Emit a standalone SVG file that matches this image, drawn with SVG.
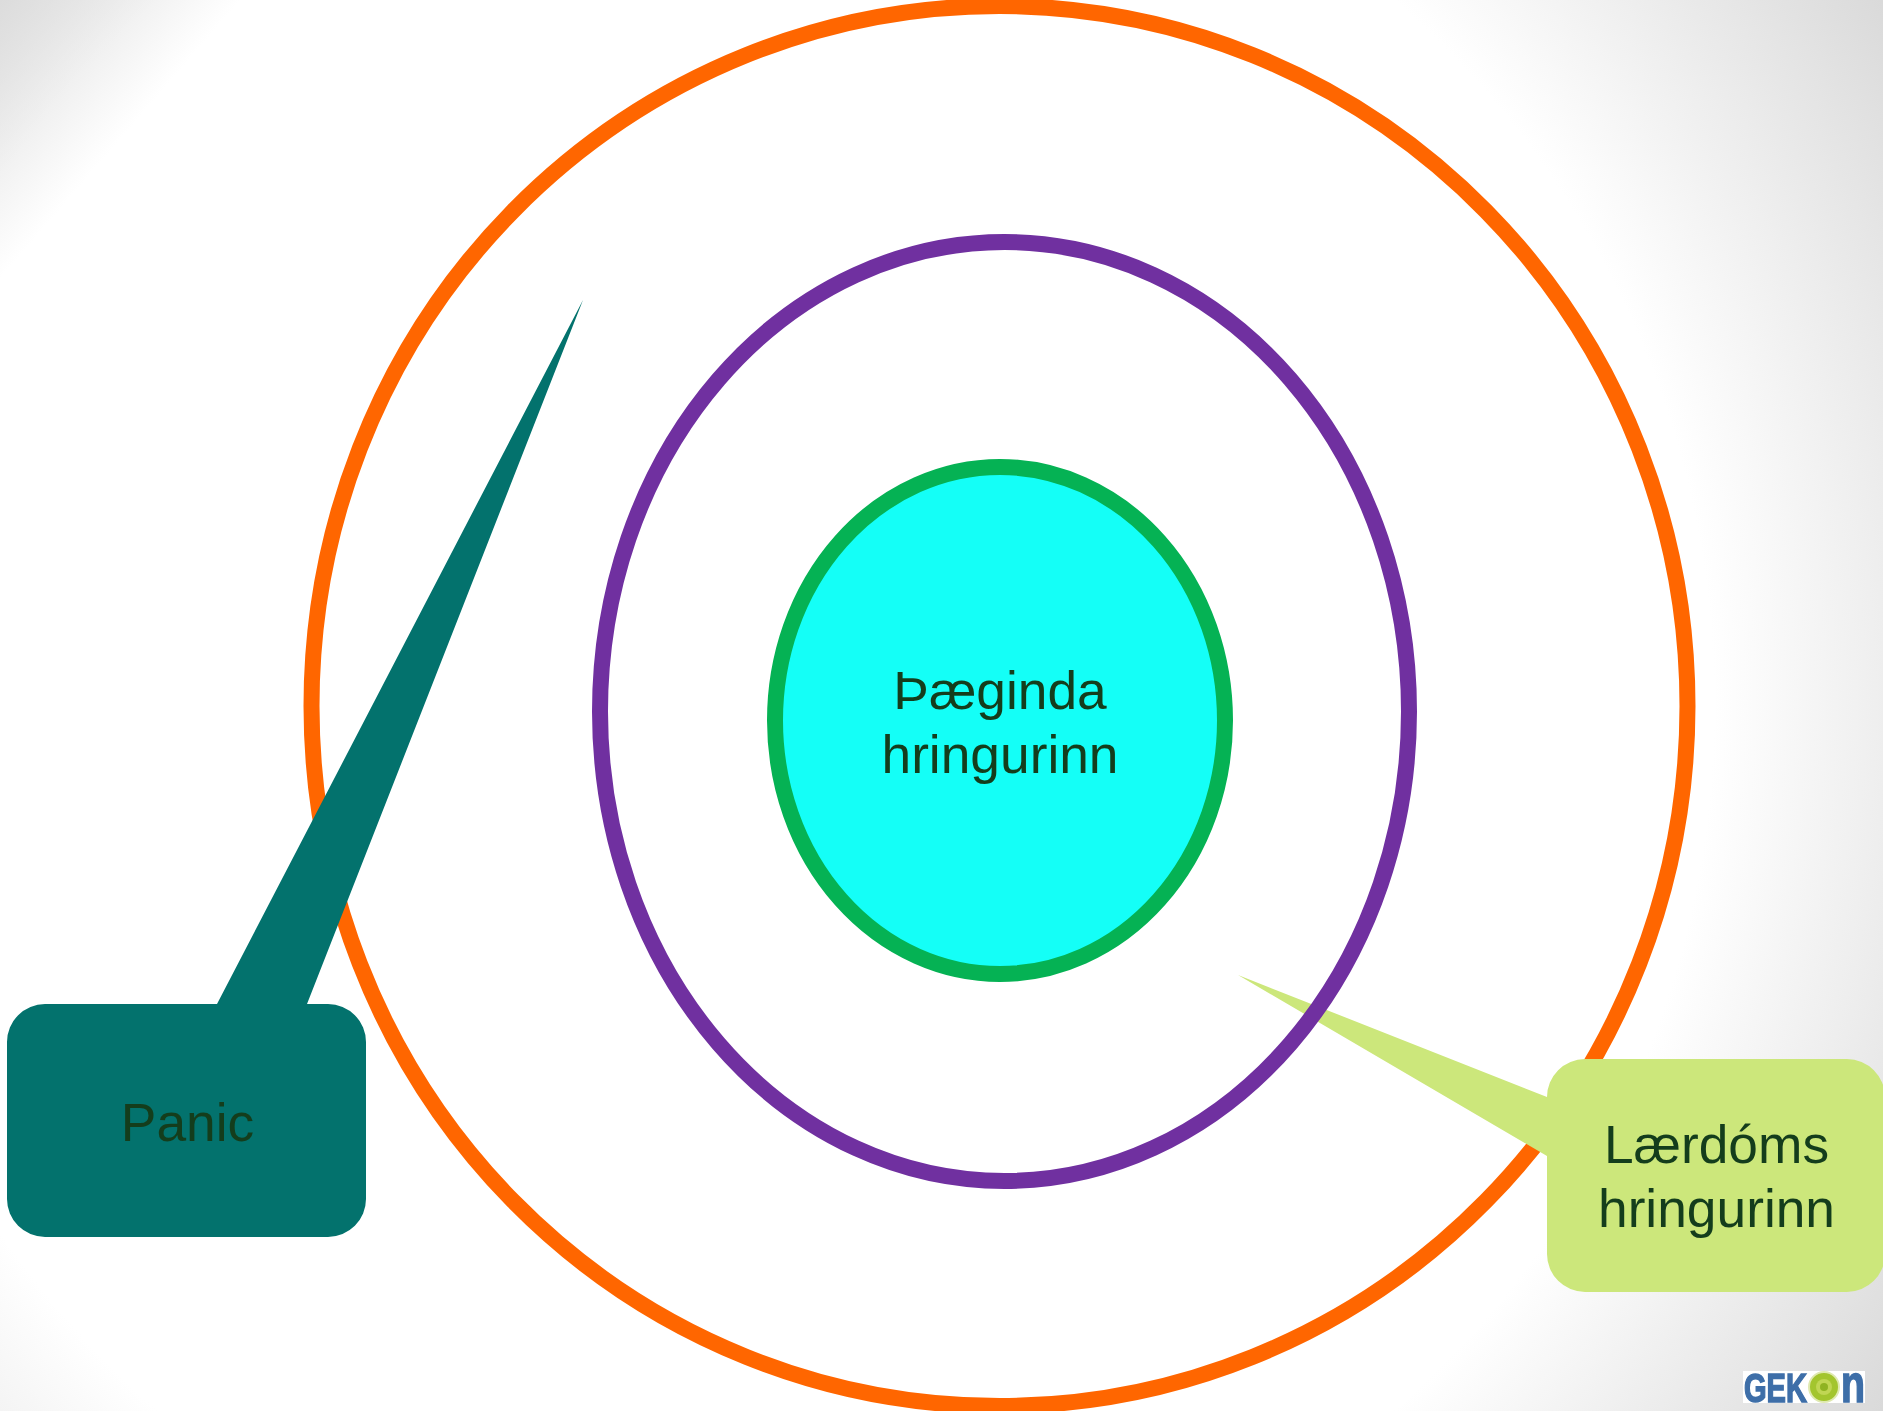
<svg xmlns="http://www.w3.org/2000/svg" width="1883" height="1411" viewBox="0 0 1883 1411">
<style>
.t{font-family:"Liberation Sans",Arial,sans-serif;font-size:53.300px;fill:#143d1c;text-anchor:middle}
.ring{fill:none;stroke-width:16}
.lg{font-family:"Liberation Sans",Arial,sans-serif;font-weight:700;fill:#3d6ea8;stroke:#3d6ea8;stroke-width:1.500px}
</style>
<defs>
<radialGradient id="bg" gradientUnits="userSpaceOnUse" cx="776" cy="705" r="1310">
<stop offset="0.716" stop-color="#ffffff"/>
<stop offset="1" stop-color="#dadada"/>
</radialGradient>
<linearGradient id="tl" gradientUnits="userSpaceOnUse" x1="0" y1="0" x2="138" y2="119">
<stop offset="0" stop-color="#dcdcdc"/>
<stop offset="1" stop-color="#dcdcdc" stop-opacity="0"/>
</linearGradient>
<filter id="soft" x="-5%" y="-5%" width="110%" height="110%"><feGaussianBlur stdDeviation="0.500"/></filter>
</defs>
<rect id="background" width="1883" height="1411" fill="url(#bg)"/>
<path id="background-corner" d="M0 0H241L0 280Z" fill="url(#tl)"/>
<g id="connectors"></g>
<g id="orange-ring"><ellipse class="ring" cx="999.500" cy="706" rx="688" ry="700" stroke="#ff6600"/></g>
<g id="learning"><path fill="#cce77b" d="M1585 1059H1847A38 38 0 0 1 1885 1097V1254A38 38 0 0 1 1847 1292H1585A38 38 0 0 1 1547 1254V1156L1238 975L1547 1097A38 38 0 0 1 1585 1059Z"/>
<text class="t" x="1716.500" y="1163">Lærdóms</text><text class="t" x="1716.500" y="1227">hringurinn</text></g>
<g id="purple-ring"><ellipse class="ring" cx="1004.500" cy="711.500" rx="404.500" ry="469.500" stroke="#7030a0"/></g>
<g id="comfort"><ellipse cx="1000" cy="720.500" rx="225" ry="253.500" fill="#14fff7" stroke="#05b254" stroke-width="16"/>
<text class="t" x="1000" y="708.500">Þæginda</text><text class="t" x="1000" y="772.500">hringurinn</text></g>
<g id="panic"><path fill="#03726d" d="M45 1004H217L583 300L307 1004H328A38 38 0 0 1 366 1042V1199A38 38 0 0 1 328 1237H45A38 38 0 0 1 7 1199V1042A38 38 0 0 1 45 1004Z"/>
<text class="t" x="187.500" y="1141">Panic</text></g>
<g id="logo" filter="url(#soft)"><rect x="1743" y="1371" width="122" height="32" fill="#fff"/>
<text class="lg" x="1744" y="1402" font-size="40" textLength="63" lengthAdjust="spacingAndGlyphs">GEK</text>
<circle cx="1824" cy="1387" r="15" fill="#a3c52f" stroke="#dfe9b0" stroke-width="2"/><circle cx="1824" cy="1387" r="8" fill="#c0d652"/><circle cx="1824" cy="1387" r="4" fill="#8fb322"/>
<text class="lg" x="1841" y="1402" font-size="51" textLength="24" lengthAdjust="spacingAndGlyphs">n</text></g>
</svg>
